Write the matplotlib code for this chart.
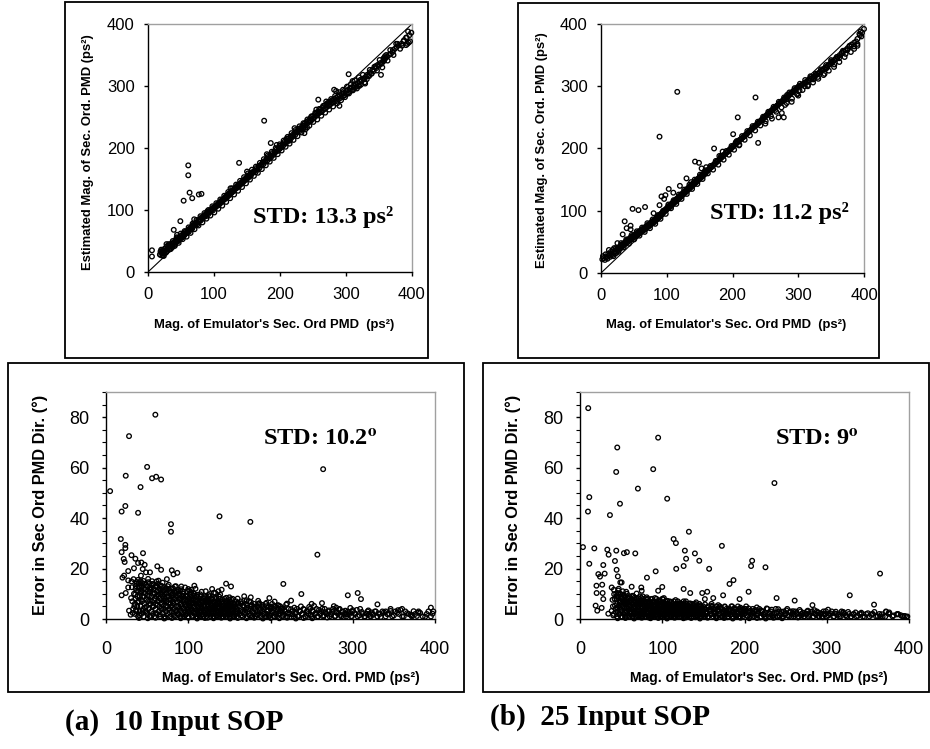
import numpy as np
import matplotlib
matplotlib.use("Agg")
import matplotlib.pyplot as plt
from matplotlib.patches import Rectangle

# ---------------- data ----------------
axis_ticks_top = [0, 100, 200, 300, 400]
axis_ticks_bottom_x = [0, 100, 200, 300, 400]
axis_ticks_bottom_y = [0, 20, 40, 60, 80]
ref_line = [0, 400]

# (a) top: estimated magnitude vs emulator magnitude, 10 input SOP
tl_band = [(18,28),(19,33),(20,27),(21,31),(22,35),(23,30),(24,34),(25,33),(26,37),(27,31),(28,36),(29,42),(30,38),(31,40),(32,36),(33,44),(34,41),(35,43),(36,46),(37,40),(38,45),(39,48),(40,47),(41,44),(42,52),(43,49),(44,51),(45,55),(46,50),(47,53),(48,56),(49,54),(50,58),(51,55),(52,60),(53,57),(54,62),(55,59),(56,61),(57,65),(58,63),(59,64),(60,66),(61,68),(62,65),(63,70),(64,69),(65,71),(66,73),(67,70),(68,74),(69,77),(70,75),(71,76),(72,79),(73,78),(74,80),(75,77),(76,83),(77,81),(78,84),(79,85),(80,83),(81,88),(82,86),(83,87),(84,90),(85,89),(86,91),(87,93),(88,90),(89,94),(90,95),(91,93),(92,97),(93,96),(94,99),(95,98),(96,100),(97,102),(98,99),(99,104),(100,103),(101,105),(102,104),(103,107),(104,106),(105,108),(106,110),(107,108),(108,112),(109,110),(110,113),(111,115),(112,113),(113,117),(114,116),(115,118),(116,117),(117,121),(118,120),(119,122),(120,121),(121,125),(122,123),(123,127),(124,125),(125,128),(126,127),(127,131),(128,129),(129,132),(130,131),(131,135),(132,134),(133,136),(134,135),(135,139),(136,137),(137,140),(138,139),(139,142),(140,141),(141,144),(142,143),(143,146),(144,145),(145,148),(146,147),(147,150),(148,149),(149,152),(150,151),(151,154),(152,152),(153,156),(154,155),(155,158),(156,156),(157,160),(158,159),(159,161),(160,162),(162,164),(163,161),(165,168),(166,165),(168,171),(169,168),(171,173),(172,172),(174,177),(175,174),(177,179),(178,178),(180,183),(181,180),(183,186),(184,183),(186,188),(187,186),(189,192),(190,189),(192,194),(193,193),(195,198),(196,195),(198,200),(199,198),(201,204),(202,201),(204,206),(205,204),(207,210),(208,207),(210,212),(211,210),(213,215),(214,213),(216,219),(217,216),(219,221),(220,219),(222,224),(223,221),(225,227),(226,225),(228,231),(229,227),(231,232),(232,230),(234,236),(235,233),(237,239),(238,236),(240,242),(241,239),(243,244),(244,242),(246,248),(247,244),(249,251),(250,247),(252,253),(253,250),(255,256),(256,253),(258,259),(259,256),(261,262),(262,258),(264,265),(265,261),(267,268),(268,263),(270,270),(271,266),(273,273),(274,268),(276,275),(277,271),(279,277),(280,273),(282,279),(283,275),(285,281),(286,276),(288,283),(289,279),(291,285),(292,281),(294,287),(295,283),(297,289),(298,285),(300,292),(301,287),(303,294),(304,290),(306,296),(307,292),(309,298),(310,294),(312,300),(313,297),(315,303),(316,299),(318,305),(319,301),(321,307),(322,310),(324,309),(326,312),(328,311),(330,315),(332,318),(334,317),(336,322),(338,320),(340,326),(342,324),(344,330),(346,329),(348,334),(350,333),(352,337),(354,336),(356,340),(358,343),(360,345),(362,347),(365,350),(368,352),(371,355),(374,360),(377,363),(380,366),(384,368),(388,374),(392,378),(396,382),(399,386)]
tl_band_spread = [(22.5,26),(25.5,38),(28.5,33),(31.5,45),(34.5,37),(37.5,50),(40.5,42),(43.5,56),(46.5,47),(49.5,62),(52.5,53),(55.5,66),(58.5,57),(61.5,72),(64.5,63),(67.5,78),(70.5,69),(73.5,84),(76.5,75),(79.5,90),(82.5,80),(85.5,95),(88.5,86),(91.5,100),(94.5,91),(97.5,106),(100.5,96),(103.5,111),(106.5,102),(109.5,117),(112.5,107),(115.5,123),(118.5,113),(121.5,129),(124.5,119),(127.5,135),(130.5,125),(133.5,141),(136.5,131),(139.5,147),(142.5,137),(145.5,153),(148.5,143),(151.5,159),(154.5,149),(157.5,165),(160.5,155),(163.5,170),(166.5,160),(169.5,176),(172.5,166),(175.5,182),(178.5,172),(181.5,188),(184.5,178),(187.5,194),(190.5,184),(193.5,200),(196.5,190),(199.5,206),(202.5,196),(205.5,212),(208.5,202),(211.5,218),(214.5,207),(217.5,224),(220.5,213),(223.5,229),(226.5,219),(229.5,235),(232.5,225),(235.5,240),(238.5,230),(241.5,246),(244.5,236),(247.5,251),(250.5,242),(253.5,257),(256.5,246),(259.5,263),(262.5,252),(265.5,268),(268.5,257),(271.5,272),(274.5,262),(277.5,279),(280.5,267),(283.5,284),(286.5,272),(289.5,290),(292.5,277),(295.5,294),(298.5,282),(301.5,299),(304.5,288),(307.5,303),(310.5,293),(313.5,309),(316.5,296),(319.5,314),(322.5,302),(325.5,318),(328.5,306),(331.5,311),(335,316),(339,320),(343,331),(347,325),(351,342),(355,330),(359,348),(363,341),(367,358),(372,350),(376,368),(382,360),(387,372),(393,368)]
tl_outliers = [(6,35),(6,25),(61,172),(61,156),(63,128),(54,115),(67,119),(77,125),(81,126),(176,244),(138,176),(304,319),(282,294),(353,318),(329,304),(397,372),(394,388),(391,366),(371,358),(361,350),(336,326),(237,224),(258,278),(200,200),(186,208),(49,82),(39,68),(290,268),(285,292),(210,215),(180,190),(150,162),(125,135),(90,98),(70,85),(44,60),(28,45),(20,36),(24,26),(357,345),(357,340),(358,342),(320,300),(310,308),(345,332),(378,368),(385,365),(391,378),(395,370),(236,232),(246,244),(255,262),(270,275),(275,270),(241,233),(263,258),(215,212),(222,232),(195,205)]

# (b) top: 25 input SOP
tr_band = [(2,22),(4,24),(6,21),(8,25),(10,23),(12,28),(14,26),(16,30),(18,29),(20,33),(21,31),(22,35),(23,32),(24,38),(25,36),(26,40),(27,37),(28,42),(29,39),(30,44),(31,41),(32,46),(33,43),(34,47),(35,45),(36,49),(37,47),(38,51),(39,48),(40,53),(41,50),(42,54),(43,52),(44,56),(45,53),(46,58),(47,55),(48,59),(49,57),(50,61),(51,58),(52,62),(53,60),(54,64),(55,61),(56,65),(57,63),(58,67),(59,64),(60,68),(61,66),(62,70),(63,67),(64,71),(65,69),(66,73),(67,70),(68,74),(69,72),(70,76),(71,74),(72,78),(73,75),(74,79),(75,77),(76,81),(77,79),(78,83),(79,80),(80,84),(81,82),(82,86),(83,84),(84,88),(85,86),(86,90),(87,88),(88,92),(89,90),(90,94),(91,92),(92,96),(93,94),(94,98),(95,97),(96,100),(97,99),(98,102),(99,101),(100,104),(101,103),(102,107),(103,105),(104,108),(105,106),(106,110),(107,108),(108,112),(109,110),(110,114),(111,113),(112,116),(113,114),(114,118),(115,116),(116,120),(117,118),(118,122),(119,120),(120,124),(121,122),(122,126),(123,124),(124,128),(125,126),(126,130),(127,128),(128,132),(129,130),(130,134),(131,132),(132,136),(133,134),(134,138),(135,136),(136,140),(137,138),(138,142),(139,140),(140,144),(141,142),(142,146),(143,144),(144,148),(145,146),(146,150),(147,148),(148,152),(149,150),(150,154),(151,152),(152,156),(153,154),(154,158),(155,156),(156,160),(157,158),(158,162),(159,160),(160,163),(162,164),(163,166),(165,167),(166,169),(168,170),(169,172),(171,173),(172,175),(174,176),(175,178),(177,179),(178,181),(180,182),(181,184),(183,185),(184,187),(186,188),(187,190),(189,191),(190,193),(192,194),(193,196),(195,197),(196,199),(198,200),(199,202),(201,203),(202,205),(204,206),(205,208),(207,209),(208,211),(210,212),(211,214),(213,215),(214,216),(216,218),(217,219),(219,221),(220,222),(222,224),(223,225),(225,227),(226,228),(228,230),(229,231),(231,233),(232,234),(234,236),(235,237),(237,238),(238,240),(240,241),(241,243),(243,244),(244,246),(246,247),(247,249),(249,250),(250,252),(252,253),(253,255),(255,256),(256,258),(258,259),(259,261),(261,262),(262,264),(264,265),(265,266),(267,268),(268,269),(270,271),(271,272),(273,274),(274,275),(276,276),(277,278),(279,279),(280,281),(282,282),(283,283),(285,285),(286,286),(288,288),(289,289),(291,290),(292,292),(294,293),(295,294),(297,296),(298,297),(300,299),(301,300),(303,301),(305,302),(307,303),(309,305),(311,306),(313,307),(315,309),(317,310),(319,312),(321,313),(323,315),(325,316),(327,318),(329,320),(331,321),(333,323),(335,325),(337,326),(339,328),(341,330),(343,331),(345,333),(347,335),(349,336),(351,338),(353,340),(355,342),(357,344),(360,347),(363,350),(366,353),(369,356),(372,358),(375,361),(378,364),(381,367),(385,370),(390,376),(394,382),(397,386),(400,392)]
tr_band_spread = [(3,27),(7,30),(11,31),(15,34),(19,27),(22.5,40),(26.5,34),(30.5,48),(34.5,41),(38.5,54),(42.5,47),(46.5,61),(50.5,54),(54.5,67),(58.5,60),(62.5,73),(66.5,66),(70.5,80),(74.5,72),(78.5,86),(82.5,79),(86.5,93),(90.5,87),(94.5,100),(98.5,95),(102.5,110),(106.5,104),(110.5,117),(114.5,111),(118.5,126),(122.5,119),(126.5,134),(130.5,127),(134.5,142),(138.5,135),(142.5,150),(146.5,143),(150.5,158),(154.5,151),(158.5,165),(162.5,160),(166.5,172),(170.5,166),(174.5,180),(178.5,174),(182.5,188),(186.5,182),(190.5,196),(194.5,190),(198.5,204),(202.5,198),(206.5,212),(210.5,206),(214.5,220),(218.5,214),(222.5,228),(226.5,221),(230.5,236),(234.5,229),(238.5,243),(242.5,237),(246.5,251),(250.5,244),(254.5,259),(258.5,252),(262.5,267),(266.5,259),(270.5,275),(274.5,266),(278.5,282),(282.5,273),(286.5,290),(290.5,280),(294.5,297),(298.5,287),(302.5,304),(306.5,294),(310.5,310),(314.5,300),(318.5,316),(322.5,306),(326.5,320),(330.5,312),(334.5,327),(338.5,318),(342.5,334),(346.5,325),(350.5,340),(354.5,331),(358.5,347),(362.5,339),(366.5,354),(370.5,347),(374.5,358),(380,355),(385,364),(390,368),(396,380)]
tr_outliers = [(116,291),(89,219),(235,282),(208,250),(239,209),(172,200),(201,223),(143,179),(149,177),(153,168),(48,103),(57,101),(67,106),(36,83),(89,109),(92,123),(103,135),(110,129),(130,152),(137,146),(45,70),(33,62),(9,26),(12,37),(18,37),(39,72),(278,250),(270,250),(282,279),(302,293),(323,311),(343,329),(368,357),(378,365),(388,372),(393,384),(98,125),(96,119),(160,170),(205,210),(210,205),(260,248),(275,257),(290,275),(300,285),(310,300),(330,315),(355,335),(362,345),(395,388),(45,76),(25,48),(20,40),(80,96),(120,140),(185,195),(180,188),(250,240),(265,262),(280,270),(283,286),(298,288),(315,302),(340,320),(350,342),(372,352),(385,360),(390,365)]

# (a) bottom: direction error vs emulator magnitude, 10 input SOP
bl_cloud = [(32,7),(33,4),(34,10),(35,2),(35,6),(36,12),(36,8),(37,3),(37,14),(38,5),(38,9),(39,1),(39,11),(40,7),(40,13),(41,3),(41,9),(42,5),(42,15),(43,11),(43,2),(44,7),(44,13),(45,4),(45,9),(46,1),(46,12),(47,6),(47,14),(48,3),(48,10),(49,8),(49,5),(50,13),(50,2),(51,7),(51,11),(52,4),(52,9),(53,14),(53,1),(54,6),(54,12),(55,3),(55,9),(56,7),(56,15),(57,2),(57,10),(58,5),(58,12),(59,8),(59,1),(60,13),(60,4),(61,9),(61,6),(62,11),(62,2),(63,7),(63,14),(64,3),(64,9),(65,5),(65,12),(66,1),(66,8),(67,10),(67,4),(68,6),(68,13),(69,2),(69,9),(70,7),(70,11),(71,4),(71,1),(72,8),(72,12),(73,5),(73,3),(74,10),(74,7),(75,2),(75,13),(76,6),(76,9),(77,4),(77,11),(78,1),(78,8),(79,5),(79,12),(80,3),(80,9),(81,7),(81,10),(82,2),(82,6),(83,11),(83,4),(84,8),(84,1),(85,5),(85,13),(86,9),(86,3),(87,7),(87,2),(88,10),(88,5),(89,4),(89,8),(90,1),(90,11),(91,6),(91,3),(92,9),(92,5),(93,2),(93,7),(94,10),(94,4),(95,1),(95,8),(96,6),(96,3),(97,9),(97,5),(98,2),(98,7),(99,11),(99,4),(100,6),(100,1),(101,8),(101,3),(102,5),(102,10),(103,2),(103,7),(104,4),(104,9),(105,1),(105,6),(106,8),(106,3),(107,5),(107,10),(108,2),(108,7),(109,4),(109,6),(110,9),(110,1),(111,3),(111,7),(112,5),(112,2),(113,8),(113,4),(114,6),(114,1),(115,3),(115,9),(116,5),(116,7),(117,2),(117,4),(118,8),(118,1),(119,6),(119,3),(120,5),(120,9),(121,2),(121,7),(122,4),(122,1),(123,6),(123,8),(124,3),(124,5),(125,2),(125,7),(126,4),(126,9),(127,1),(127,6),(128,3),(128,5),(129,8),(129,2),(130,4),(130,6),(131,1),(131,3),(132,7),(132,5),(133,2),(133,4),(134,6),(134,8),(135,1),(135,3),(136,5),(136,7),(137,2),(137,4),(138,6),(138,1),(139,3),(139,8),(140,5),(140,2),(141,4),(141,7),(142,1),(142,6),(143,3),(143,5),(144,2),(144,8),(145,4),(145,6),(146,1),(146,3),(147,5),(147,7),(148,2),(148,4),(149,6),(149,3),(150,1),(150,5),(151,7),(151,2),(152,4),(152,6),(153,3),(153,1),(154,5),(154,8),(155,2),(155,4),(156,6),(156,1),(157,3),(157,5),(158,7),(158,2),(159,4),(159,1),(160,6),(160,3),(162,5),(162,2),(164,4),(164,7),(166,1),(166,3),(168,5),(168,2),(170,4),(170,6),(172,1),(172,3),(174,7),(174,2),(176,4),(176,5),(178,1),(178,3),(180,6),(180,2),(182,4),(182,1),(184,3),(184,5),(186,2),(186,6),(188,4),(188,1),(190,3),(190,5),(192,2),(192,4),(194,1),(194,6),(196,3),(196,2),(198,5),(198,1),(200,4),(200,2),(202,3),(202,6),(204,1),(204,4),(206,2),(206,5),(208,3),(208,1),(210,4),(210,2),(212,5),(212,3),(214,1),(214,4),(216,2),(218,3),(220,1),(222,4),(224,2),(226,3),(228,1),(230,2),(232,4),(234,1),(236,3),(238,2),(240,4),(242,1),(244,3),(246,2),(248,4),(250,1),(252,3),(254,2),(256,4),(258,1),(260,2),(262,3),(264,1),(266,4),(268,2),(270,3),(272,1),(274,2),(276,4),(278,1),(280,3),(282,2),(284,4),(286,1),(288,3),(290,2),(292,1),(294,3),(296,2),(298,1),(300,3),(303,2),(306,1),(309,4),(312,2),(315,1),(318,3),(320,2),(322,1),(324,2),(327,3),(330,1),(333,2),(336,3),(340,1),(344,2),(348,1),(352,3),(356,2),(360,1),(364,3),(368,2),(372,1),(376,2),(380,3),(385,1),(390,2),(395,1),(398,3)]
bl_cloud_fill = [(30.5,8.3),(31.5,12.6),(32.5,2.4),(33.5,15.8),(34.5,5.1),(35.5,9.7),(36.5,3.6),(37.5,11.2),(38.5,6.8),(39.5,14.3),(40.5,1.5),(41.5,10.4),(42.5,7.6),(43.5,12.9),(44.5,3.2),(45.5,15.1),(46.5,8.9),(47.5,4.4),(48.5,11.7),(49.5,2.8),(50.5,9.3),(51.5,14.6),(52.5,6.2),(53.5,10.8),(54.5,0.9),(55.5,12.3),(56.5,4.7),(57.5,13.8),(58.5,7.4),(59.5,10.1),(60.5,2.3),(61.5,14.9),(62.5,5.6),(63.5,11.4),(64.5,8.2),(65.5,1.8),(66.5,13.3),(67.5,6.5),(68.5,9.9),(69.5,3.9),(70.5,12.7),(71.5,7.2),(72.5,0.6),(73.5,10.5),(74.5,4.9),(75.5,8.7),(76.5,11.9),(77.5,2.6),(78.5,6.1),(79.5,9.4),(80.5,5.3),(81.5,12.2),(82.5,1.2),(83.5,7.9),(84.5,10.3),(85.5,3.5),(86.5,6.7),(87.5,11.5),(88.5,2.1),(89.5,9.6),(90.5,5.8),(91.5,8.1),(92.5,0.8),(93.5,10.9),(94.5,4.2),(95.5,7.3),(96.5,1.6),(97.5,9.1),(98.5,5.5),(99.5,2.9),(100.5,8.4),(101.5,6.0),(102.5,3.7),(103.5,10.6),(104.5,1.3),(105.5,7.7),(106.5,4.6),(107.5,9.2),(108.5,2.5),(109.5,5.9),(110.5,8.8),(111.5,0.7),(112.5,6.4),(113.5,3.1),(114.5,9.8),(115.5,4.8),(116.5,1.9),(117.5,7.0),(118.5,5.2),(119.5,2.7),(120.5,8.6),(121.5,3.4),(122.5,6.6),(123.5,0.5),(124.5,9.5),(125.5,4.1),(126.5,6.9),(127.5,2.2),(128.5,7.6),(129.5,4.5),(130.5,1.1),(131.5,8.3),(132.5,3.8),(133.5,5.7),(134.5,1.4),(135.5,6.3),(136.5,3.0),(137.5,8.9),(138.5,4.3),(139.5,2.0),(140.5,6.8),(141.5,3.3),(142.5,0.9),(143.5,5.4),(144.5,2.6),(145.5,7.1),(146.5,4.0),(147.5,1.7),(148.5,5.0),(149.5,2.4),(151,6.1),(153,3.6),(155,1.0),(157,4.7),(159,2.3),(161,6.4),(163,3.2),(165,1.5),(167,5.3),(169,2.8),(171,7.4),(173,3.9),(175,1.2),(177,5.6),(179,2.5),(181,4.3),(183,1.8),(185,6.0),(187,3.1),(189,0.8),(191,4.6),(193,2.2),(195,5.1),(197,3.4),(199,1.4),(201,4.9),(203,2.7),(205,0.9),(207,3.8),(209,5.5),(211,2.1),(213,4.2),(215,1.3),(217,3.5),(219,5.7),(221,2.4),(223,0.8),(225,3.9),(227,1.9),(229,4.5),(231,2.6),(233,1.1),(235,3.3),(237,5.0),(239,2.0),(241,3.7),(243,0.7),(245,2.9),(247,4.8),(249,1.6),(251,3.1),(253,5.2),(255,2.3),(257,1.0),(259,3.6),(261,2.2),(263,4.1),(265,1.4),(267,2.7),(269,0.6),(271,3.4),(273,1.8),(275,2.9),(277,5.1),(279,1.2),(281,2.5),(283,3.8),(285,1.6),(287,2.9),(289,0.8),(291,3.3),(293,1.9),(295,2.6),(297,4.4),(299,1.1),(302,2.4),(305,3.6),(308,1.5),(311,2.8),(314,0.9),(317,2.1),(319,3.4),(321,1.2),(323,2.6),(325,1.7),(328,3.0),(331,2.2),(334,0.8),(338,2.7),(342,1.9),(346,3.2),(350,1.4),(354,2.5),(358,3.6),(362,1.0),(366,2.3),(370,1.7),(374,3.1),(378,1.2),(382,2.4),(388,0.9),(392,3.0),(397,2.1)]
bl_cloud_top = [(36.2,13.1),(38.8,15.5),(41.2,12.4),(43.8,14.2),(46.2,10.6),(48.8,13.5),(51.2,15.9),(53.8,11.6),(56.2,13.9),(58.8,10.2),(61.2,12.8),(63.8,15.2),(66.2,11.1),(68.8,14.4),(71.2,9.8),(73.8,12.1),(76.2,13.6),(78.8,10.7),(81.2,8.4),(83.8,12.9),(86.2,10.9),(88.8,7.5),(91.2,11.8),(93.8,9.2),(96.2,12.5),(98.8,8.9),(101.2,11.3),(103.8,7.8),(106.2,10.2),(108.8,12.0),(111.2,9.6),(113.8,6.9),(116.2,10.8),(118.8,8.2),(121.2,11.0),(123.8,7.3),(126.2,9.9),(128.8,6.4),(131.2,10.4),(133.8,8.6),(136.2,6.0),(138.8,9.7),(141.2,7.7),(143.8,5.2),(146.2,8.4),(148.8,6.6),(152,7.9),(156,5.8),(160,8.1),(164,6.2),(168,7.3),(172,5.4),(176,6.8),(180,4.9),(185,7.2),(190,5.6),(195,6.4),(200,4.7),(205,6.9),(210,5.3),(215,4.2),(220,6.1),(40.2,0.4),(50.8,0.3),(60.2,0.5),(70.8,0.2),(80.2,0.4),(90.8,0.3),(100.2,0.5),(110.8,0.2),(120.2,0.4),(130.8,0.3),(140.2,0.5),(150.8,0.2),(160.2,0.4),(170.8,0.3),(180.2,0.5),(190.8,0.2),(200.2,0.4),(210.8,0.3),(220.2,0.5),(230.8,0.2),(240.2,0.4),(250.8,0.3)]
bl_outliers = [(5,50.7),(60,81),(28,72.5),(24,56.8),(50,60.3),(56,55.8),(61,56.4),(67,55.3),(42,52.3),(19,42.6),(23.5,44.8),(39,42.1),(79,37.6),(79,34.6),(138,40.7),(175.5,38.5),(264,59.4),(257,25.5),(113.5,19.9),(215.6,13.9),(237.5,9.9),(294,9.4),(306,10.3),(310,7.9),(330,5.8),(262.6,6.3),(198.6,8.3),(225,7.3),(18,31.7),(19,26.5),(23.5,28.1),(23.5,29.4),(21.5,23.8),(22.7,22.6),(20,16.4),(22,17.2),(27,19),(31,25.3),(35.7,23.9),(45,26.1),(34,20.1),(39,22.2),(43,22.4),(47,21.5),(53.5,18.5),(48.6,18.5),(42.5,17.2),(44.6,19.8),(62.4,20.9),(67,19.5),(74,15.8),(80,19.3),(82,17.7),(86.7,18.3),(19,9.4),(24,10.3),(27,12.5),(27,15.3),(31,14.9),(37,14.7),(28,3.3),(30,1.7),(91.6,12.9),(100,11.9),(104,11.6),(107.4,13.2),(129,11.9),(140.6,11.6),(146,14),(152,12.9),(150,8.6),(168,9),(176,8.6),(186.4,6.3),(136.6,11),(133,10.3),(360,4),(395,4.5),(380,2.5),(346,4),(372,1.5),(250,6),(280,4.5),(300,3.5),(340,3),(355,3.5)]

# (b) bottom: 25 input SOP
br_cloud = [(40,5),(41,2),(42,8),(43,4),(44,10),(45,1),(45,6),(46,3),(46,9),(47,5),(47,12),(48,2),(48,7),(49,4),(49,10),(50,1),(50,6),(51,8),(51,3),(52,5),(52,11),(53,2),(53,7),(54,4),(54,9),(55,1),(55,6),(56,3),(56,8),(57,5),(57,10),(58,2),(58,7),(59,4),(59,6),(60,1),(60,9),(61,3),(61,5),(62,7),(62,2),(63,4),(63,8),(64,1),(64,6),(65,3),(65,9),(66,5),(66,2),(67,7),(67,4),(68,1),(68,6),(69,3),(69,8),(70,5),(70,2),(71,4),(71,7),(72,1),(72,6),(73,3),(73,9),(74,5),(74,2),(75,7),(75,4),(76,1),(76,6),(77,3),(77,8),(78,5),(78,2),(79,4),(79,7),(80,1),(80,6),(81,3),(81,5),(82,8),(82,2),(83,4),(83,6),(84,1),(84,3),(85,7),(85,5),(86,2),(86,4),(87,6),(87,1),(88,3),(88,8),(89,5),(89,2),(90,4),(90,7),(91,1),(91,6),(92,3),(92,5),(93,2),(93,8),(94,4),(94,1),(95,6),(95,3),(96,5),(96,2),(97,7),(97,4),(98,1),(98,6),(99,3),(99,5),(100,2),(100,8),(101,4),(101,1),(102,6),(102,3),(103,5),(103,2),(104,7),(104,4),(105,1),(105,6),(106,3),(106,5),(107,2),(107,4),(108,6),(108,1),(109,3),(109,7),(110,5),(110,2),(111,4),(111,1),(112,6),(112,3),(113,5),(113,2),(114,4),(114,7),(115,1),(115,3),(116,5),(116,2),(117,6),(117,4),(118,1),(118,3),(119,5),(119,7),(120,2),(120,4),(121,6),(121,1),(122,3),(122,5),(123,2),(123,4),(124,6),(124,1),(125,3),(125,5),(126,2),(126,7),(127,4),(127,1),(128,3),(128,5),(129,2),(129,6),(130,4),(130,1),(131,3),(131,5),(132,2),(132,4),(133,6),(133,1),(134,3),(134,5),(135,2),(135,4),(136,1),(136,6),(137,3),(137,2),(138,5),(138,1),(139,4),(139,3),(140,2),(140,6),(141,1),(141,4),(142,3),(142,5),(143,2),(143,1),(144,4),(144,3),(145,6),(145,2),(146,1),(146,4),(147,3),(147,5),(148,2),(148,1),(149,4),(149,3),(150,2),(150,5),(152,1),(152,4),(154,3),(154,2),(156,5),(156,1),(158,4),(158,3),(160,2),(160,6),(162,1),(162,4),(164,3),(164,2),(166,5),(166,1),(168,4),(168,3),(170,2),(170,5),(172,1),(172,4),(174,3),(174,2),(176,5),(176,1),(178,4),(178,3),(180,2),(180,1),(182,4),(182,3),(184,2),(184,5),(186,1),(186,3),(188,4),(188,2),(190,1),(190,3),(192,5),(192,2),(194,1),(194,4),(196,3),(196,2),(198,1),(198,4),(200,3),(200,2),(202,5),(204,1),(206,3),(208,2),(210,4),(212,1),(214,3),(216,2),(218,4),(220,1),(222,3),(224,2),(226,1),(228,4),(230,2),(232,3),(234,1),(236,2),(238,4),(240,1),(242,3),(244,2),(246,1),(248,3),(250,2),(252,4),(254,1),(256,3),(258,2),(260,1),(262,3),(264,2),(266,1),(268,3),(270,2),(272,1),(274,2),(276,3),(278,1),(280,2),(282,3),(284,1),(286,2),(288,3),(290,1),(292,2),(294,1),(296,3),(298,2),(300,1),(303,2),(306,3),(309,1),(312,2),(315,1),(318,3),(321,2),(324,1),(327,2),(330,1),(333,2),(336,1),(340,2),(344,1),(348,2),(352,1),(356,2),(360,1),(364,2),(368,1),(372,3),(376,2),(380,1),(386,2),(392,1),(398,1)]
br_cloud_fill = [(38.5,3.2),(39.5,7.6),(40.5,1.4),(41.5,9.8),(42.5,5.3),(43.5,2.7),(44.5,7.9),(45.5,4.1),(46.5,11.3),(47.5,1.9),(48.5,6.4),(49.5,3.5),(50.5,8.8),(51.5,0.8),(52.5,5.7),(53.5,9.4),(54.5,2.6),(55.5,7.2),(56.5,4.5),(57.5,1.3),(58.5,8.1),(59.5,5.0),(60.5,2.2),(61.5,7.4),(62.5,3.9),(63.5,0.9),(64.5,6.6),(65.5,4.3),(66.5,8.5),(67.5,2.4),(68.5,5.4),(69.5,1.5),(70.5,7.1),(71.5,3.3),(72.5,5.9),(73.5,0.7),(74.5,8.3),(75.5,2.9),(76.5,4.8),(77.5,6.9),(78.5,1.7),(79.5,3.6),(80.5,7.7),(81.5,2.1),(82.5,5.2),(83.5,0.6),(84.5,4.0),(85.5,6.3),(86.5,2.8),(87.5,4.7),(88.5,1.1),(89.5,6.8),(90.5,3.1),(91.5,5.5),(92.5,1.6),(93.5,4.4),(94.5,7.0),(95.5,2.5),(96.5,3.9),(97.5,0.8),(98.5,5.8),(99.5,2.0),(100.5,4.6),(101.5,6.5),(102.5,1.4),(103.5,3.4),(104.5,5.1),(105.5,0.9),(106.5,6.2),(107.5,2.7),(108.5,4.2),(109.5,1.2),(110.5,6.7),(111.5,3.0),(112.5,4.9),(113.5,0.7),(114.5,5.6),(115.5,2.3),(116.5,3.8),(117.5,1.5),(118.5,6.0),(119.5,2.6),(120.5,4.5),(121.5,0.9),(122.5,3.7),(123.5,5.3),(124.5,1.8),(125.5,4.1),(126.5,2.4),(127.5,6.3),(128.5,0.6),(129.5,3.2),(130.5,5.0),(131.5,1.6),(132.5,3.5),(133.5,2.2),(134.5,4.8),(135.5,0.8),(136.5,3.0),(137.5,5.7),(138.5,1.9),(139.5,3.8),(140.5,0.7),(141.5,2.7),(142.5,4.4),(143.5,1.3),(144.5,3.3),(145.5,5.1),(146.5,2.1),(147.5,0.9),(148.5,3.6),(149.5,1.7),(151,4.3),(153,2.5),(155,0.8),(157,3.7),(159,1.9),(161,4.9),(163,2.6),(165,1.2),(167,3.4),(169,2.0),(171,4.4),(173,1.1),(175,3.0),(177,2.3),(179,0.7),(181,3.9),(183,1.6),(185,2.8),(187,4.1),(189,1.4),(191,2.6),(193,0.9),(195,3.5),(197,1.8),(199,2.9),(201,4.0),(203,1.3),(205,2.4),(207,3.3),(209,0.8),(211,2.1),(213,3.6),(215,1.5),(217,2.8),(219,0.6),(221,3.2),(223,1.7),(225,2.5),(227,4.2),(229,1.0),(231,2.3),(233,3.7),(235,1.4),(237,0.7),(239,2.6),(241,3.9),(243,1.2),(245,2.9),(247,0.8),(249,2.1),(251,3.4),(253,1.5),(255,2.7),(257,0.9),(259,3.1),(261,1.8),(263,2.4),(265,0.6),(267,3.6),(269,1.3),(271,2.5),(273,1.0),(275,2.2),(277,3.3),(279,1.6),(281,2.8),(283,0.8),(285,3.5),(287,1.9),(289,2.6),(291,1.1),(293,2.3),(295,0.7),(297,1.8),(299,3.1),(302,1.4),(305,2.2),(308,0.9),(311,2.9),(314,1.7),(317,1.0),(320,2.4),(323,1.5),(326,2.8),(329,0.9),(332,1.9),(335,2.6),(338,1.2),(342,2.0),(346,0.8),(350,2.3),(354,1.6),(358,2.8),(362,1.1),(367,1.9),(371,0.9),(376,2.6),(381,1.4),(387,1.9),(393,1.2),(397,0.8)]
br_cloud_top = [(41.2,11.6),(43.8,8.9),(46.2,10.2),(48.8,7.3),(51.2,9.6),(53.8,6.5),(56.2,10.8),(58.8,8.4),(61.2,6.9),(63.8,9.2),(66.2,7.6),(68.8,10.1),(71.2,8.2),(73.8,6.4),(76.2,9.0),(78.8,7.1),(81.2,8.6),(83.8,6.1),(86.2,7.9),(88.8,5.6),(91.2,8.3),(93.8,6.7),(96.2,7.4),(98.8,5.3),(101.2,7.8),(103.8,6.0),(106.2,7.2),(108.8,5.1),(111.2,6.8),(113.8,4.7),(116.2,7.5),(118.8,5.4),(121.2,6.3),(123.8,4.6),(126.2,5.9),(128.8,7.0),(131.2,4.9),(133.8,6.2),(136.2,4.4),(138.8,5.6),(141.2,6.6),(143.8,4.2),(146.2,5.4),(148.8,3.9),(152,5.8),(156,4.6),(160,5.2),(164,3.8),(168,5.5),(172,4.1),(176,4.8),(180,3.6),(185,5.0),(190,3.9),(195,4.5),(200,3.5),(205,4.2),(210,3.1),(215,4.6),(220,3.4),(45.8,0.3),(55.2,0.4),(65.8,0.2),(75.2,0.5),(85.8,0.3),(95.2,0.4),(105.8,0.2),(115.2,0.5),(125.8,0.3),(135.2,0.4),(145.8,0.2),(155.2,0.5),(165.8,0.3),(175.2,0.4),(185.8,0.2),(195.2,0.5),(205.8,0.3),(215.2,0.4),(225.8,0.2),(235.2,0.5),(245.8,0.3)]
br_outliers = [(10,83.6),(95,71.9),(45.3,68),(44,58.3),(89,59.4),(70.4,51.7),(106,47.7),(48.6,45.7),(11.3,48.3),(9.7,42.6),(36.4,41.2),(236.4,53.9),(132.4,34.6),(113.8,31.7),(116.6,30.1),(127.5,27.1),(129,23.9),(126,21),(139.7,26),(145,23.1),(117,19.9),(157,19.9),(172.5,29),(209.3,23.1),(208,21),(225.5,20.5),(364.8,18),(3.6,28.5),(17.4,28),(11.3,21.9),(33.2,27.5),(34.8,25.5),(44.1,27.1),(53.4,26.1),(57,26.5),(67.2,26),(42.5,23),(44.5,19.5),(46,16.9),(49,14.5),(50.6,14.5),(28.3,21.4),(30,18),(22.3,17.8),(24.3,16.8),(92,18.9),(81.4,16.4),(95,11.2),(100,12.7),(102,8.3),(74.5,12.5),(62.8,12.8),(75,11.2),(126,11.9),(134,10.3),(174,9.4),(181.8,13.9),(186.6,15.4),(205,10.8),(194,7.9),(239,8.3),(261,7.3),(328,9.4),(357.5,5.7),(20.2,10.3),(20,13.2),(27,13.6),(27.5,10.3),(38.5,12.5),(19,5.3),(21,3.3),(26.3,4.4),(34.4,2.1),(28.3,7.9),(148.6,10.3),(154.7,10.8),(162,8.3),(151.8,7.9),(282.6,5.5),(301.6,3.7),(342,2.5),(355,2),(372,2.8),(375,2.2),(385,1.8),(390,1.5),(395,1.2),(365,1),(290,2.5),(310,2.2),(320,2.8)]

std_texts = ["STD: 13.3 ps\u00b2", "STD: 11.2 ps\u00b2", "STD: 10.2$^{\\mathbf{o}}$", "STD: 9$^{\\mathbf{o}}$"]
captions = ["(a)  10 Input SOP", "(b)  25 Input SOP"]
top_xlabel = "Mag. of Emulator's Sec. Ord PMD  (ps\u00b2)"
top_ylabel = "Estimated Mag. of Sec. Ord. PMD (ps\u00b2)"
bot_xlabel = "Mag. of Emulator's Sec. Ord. PMD (ps\u00b2)"
bot_ylabel = "Error in Sec Ord PMD Dir. (\u00b0)"

# ---------------- figure ----------------
plt.rcParams['font.family'] = ['Liberation Sans', 'DejaVu Sans']
plt.rcParams['mathtext.fontset'] = 'stix'
W, H = 930, 749
fig = plt.figure(figsize=(W/100, H/100), dpi=100)

def fx(px): return px / W
def fy(py): return 1 - py / H

def box(x0, y0, x1, y1):
    fig.add_artist(Rectangle((fx(x0), fy(y1)), fx(x1) - fx(x0), fy(y0) - fy(y1),
                             transform=fig.transFigure, fill=False, lw=1.3, ec='black'))

def axes_px(l, t, r, b):
    return fig.add_axes([fx(l), fy(b), fx(r) - fx(l), fy(t) - fy(b)])

def style(ax, labelsize, xpad, ypad):
    for s in ['left', 'bottom']:
        ax.spines[s].set_color('black'); ax.spines[s].set_linewidth(1.0)
    for s in ['top', 'right']:
        ax.spines[s].set_color('#a0a0a0'); ax.spines[s].set_linewidth(1.0)
    ax.tick_params(direction='out', length=3, width=1, labelsize=labelsize,
                   top=False, right=False)
    ax.tick_params(axis='x', pad=xpad)
    ax.tick_params(axis='y', pad=ypad)

def scatter(ax, pts):
    a = np.array(pts, dtype=float)
    ax.scatter(a[:, 0], a[:, 1], s=11, facecolors='none', edgecolors='black',
               linewidths=0.95, clip_on=False, zorder=3)

serif = ['Liberation Serif', 'DejaVu Serif']

# panel frames
box(65, 2, 428, 358)
box(518, 3, 879, 358)
box(8, 363, 464, 692)
box(483, 363, 929, 692)

# top panels
top_specs = [((148, 24, 412, 272), tl_band + tl_band_spread + tl_outliers, std_texts[0], (0.398, 0.222), (274, 325), (88, 152)),
             ((601, 24, 864, 273), tr_band + tr_band_spread + tr_outliers, std_texts[1], (0.414, 0.241), (726, 325), (542, 150))]
for rect, pts, st, spos, xl, yl in top_specs:
    ax = axes_px(*rect)
    ax.plot(ref_line, ref_line, color='black', lw=0.8, zorder=2)
    scatter(ax, pts)
    ax.set_xlim(0, 400); ax.set_ylim(0, 400)
    ax.set_xticks(axis_ticks_top); ax.set_yticks(axis_ticks_top)
    style(ax, 12, 8, 6.5)
    ax.text(spos[0], spos[1], st, transform=ax.transAxes, ha='left', va='center',
            fontsize=17.5, fontweight='bold', family=serif)
    fig.text(fx(xl[0]), fy(xl[1]), top_xlabel, ha='center', va='center', fontsize=9.4, fontweight='bold')
    fig.text(fx(yl[0]), fy(yl[1]), top_ylabel, ha='center', va='center', fontsize=9.4,
             fontweight='bold', rotation=90)

# bottom panels
bot_specs = [((106, 392, 435, 619), bl_cloud + bl_cloud_fill + bl_cloud_top + bl_outliers, std_texts[2], (0.477, 0.789), (291, 678), (40, 505)),
             ((580, 392, 909, 619), br_cloud + br_cloud_fill + br_cloud_top + br_outliers, std_texts[3], (0.593, 0.789), (759, 678), (513, 505))]
for rect, pts, st, spos, xl, yl in bot_specs:
    ax = axes_px(*rect)
    scatter(ax, pts)
    ax.set_xlim(0, 400); ax.set_ylim(0, 90)
    ax.set_xticks(axis_ticks_bottom_x); ax.set_yticks(axis_ticks_bottom_y)
    ax.set_yticks(np.arange(0, 91, 5), minor=True)
    style(ax, 13, 13, 9)
    ax.tick_params(axis='y', which='minor', direction='out', length=3, width=0.8, right=False)
    ax.text(spos[0], spos[1], st, transform=ax.transAxes, ha='left', va='center',
            fontsize=17.5, fontweight='bold', family=serif)
    fig.text(fx(xl[0]), fy(xl[1]), bot_xlabel, ha='center', va='center', fontsize=10, fontweight='bold')
    fig.text(fx(yl[0]), fy(yl[1]), bot_ylabel, ha='center', va='center', fontsize=11.8,
             fontweight='bold', rotation=90)

# captions
fig.text(fx(65), fy(722), captions[0], ha='left', va='center', fontsize=21,
         fontweight='bold', family=serif)
fig.text(fx(490), fy(717), captions[1], ha='left', va='center', fontsize=21,
         fontweight='bold', family=serif)

fig.savefig('out.png', dpi=100)
